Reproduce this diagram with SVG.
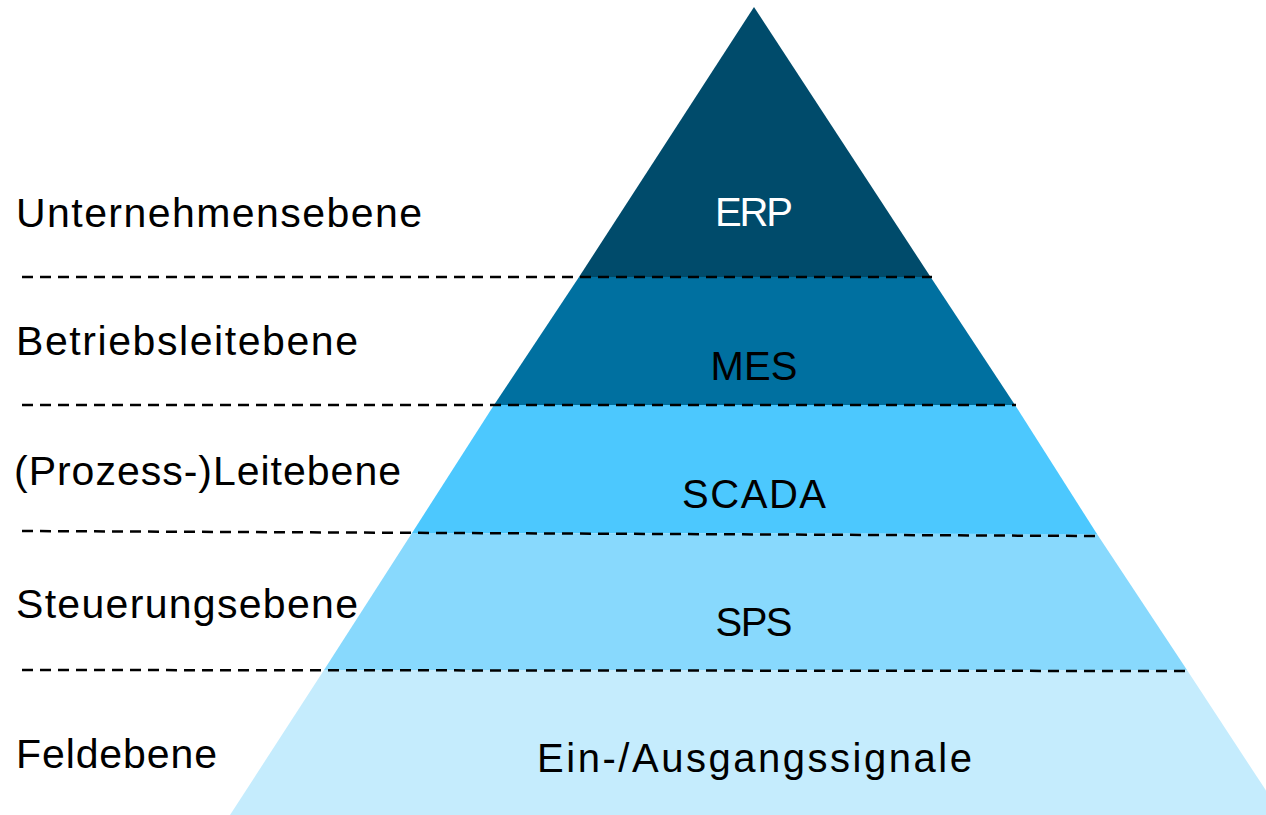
<svg xmlns="http://www.w3.org/2000/svg" width="1266" height="815" viewBox="0 0 1266 815">
  <style>
    .lbl { font-family: "Liberation Sans", Arial, sans-serif; font-size: 41px; fill: #000; }
    .mid { font-family: "Liberation Sans", Arial, sans-serif; font-size: 40px; fill: #000; text-anchor: middle; }
    .dash { stroke: #000; stroke-width: 2.5; stroke-dasharray: 11 7; fill: none; }
  </style>
  <rect width="1266" height="815" fill="#fff"/>
  <g id="tier-erp">
    <polygon points="754,7 930.6,277 579,277" fill="#004B6B"/>
    <text class="mid" x="754" y="226" style="fill:#fff" textLength="78" lengthAdjust="spacing">ERP</text>
  </g>
  <g id="tier-mes">
    <polygon points="579,277 930.6,277 1015,405 494,405" fill="#0070A0"/>
    <text class="mid" x="754" y="380" textLength="87" lengthAdjust="spacing">MES</text>
  </g>
  <g id="tier-scada">
    <polygon points="494,405 1015,405 1097,534 412,533" fill="#4CC8FE"/>
    <text class="mid" x="754" y="508" textLength="144" lengthAdjust="spacing">SCADA</text>
  </g>
  <g id="tier-sps">
    <polygon points="412,533 1097,534 1187,670 324,670" fill="#88D9FD"/>
    <text class="mid" x="754" y="636" textLength="77" lengthAdjust="spacing">SPS</text>
  </g>
  <g id="tier-feld">
    <polygon points="324,670 1187,670 1282,815 230,815" fill="#C5ECFD"/>
    <text class="mid" x="754.5" y="772" textLength="435" lengthAdjust="spacing">Ein-/Ausgangssignale</text>
  </g>
  <g id="level-labels">
    <text class="lbl" x="16" y="227" textLength="406" lengthAdjust="spacing">Unternehmensebene</text>
    <text class="lbl" x="16" y="355" textLength="342" lengthAdjust="spacing">Betriebsleitebene</text>
    <text class="lbl" x="14" y="485" textLength="387" lengthAdjust="spacing">(Prozess-)Leitebene</text>
    <text class="lbl" x="16" y="618" textLength="342" lengthAdjust="spacing">Steuerungsebene</text>
    <text class="lbl" x="16" y="768" textLength="201" lengthAdjust="spacing">Feldebene</text>
  </g>
  <g id="connectors">
    <line class="dash" x1="22" y1="277" x2="932" y2="277"/>
    <line class="dash" x1="22" y1="405" x2="1016" y2="405"/>
    <line class="dash" x1="22" y1="531" x2="1095" y2="536"/>
    <line class="dash" x1="22" y1="670" x2="1186" y2="671"/>
  </g>
</svg>
